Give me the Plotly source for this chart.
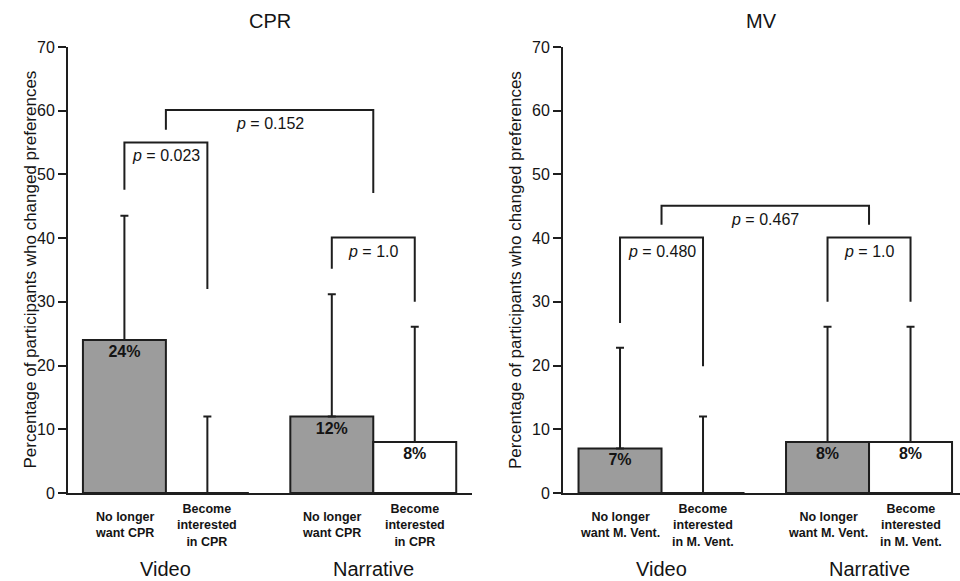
import plotly.graph_objects as go

# ---------------- data ----------------
panel_titles = ["CPR", "MV"]
group_labels = ["Video", "Narrative"]

cpr_categories = ["No longer<br>want CPR", "Become<br>interested<br>in CPR",
                  "No longer<br>want CPR", "Become<br>interested<br>in CPR"]
mv_categories = ["No longer<br>want M. Vent.", "Become<br>interested<br>in M. Vent.",
                 "No longer<br>want M. Vent.", "Become<br>interested<br>in M. Vent."]

cpr_values = [24, 0, 12, 8]
cpr_upper = [43.5, 12.0, 31.2, 26.1]
mv_values = [7, 0, 8, 8]
mv_upper = [22.8, 12.0, 26.1, 26.1]

# brackets: (left bar/group, right bar/group, left leg bottom, top, right leg bottom, p label, label y)
cpr_brackets = [
    ("bar0", "bar1", 47.6, 55.0, 32.0, "p = 0.023", 53.0),
    ("bar2", "bar3", 35.2, 40.1, 30.0, "p = 1.0", 37.9),
    ("grp0", "grp1", 57.0, 60.1, 47.1, "p = 0.152", 58.0),
]
mv_brackets = [
    ("bar0", "bar1", 26.7, 40.1, 19.9, "p = 0.480", 37.9),
    ("bar2", "bar3", 30.0, 40.1, 30.0, "p = 1.0", 37.9),
    ("grp0", "grp1", 42.1, 45.1, 42.1, "p = 0.467", 43.0),
]

y_ticks = [0, 10, 20, 30, 40, 50, 60, 70]
y_title = "Percentage of participants who changed preferences"

# ---------------- layout helpers ----------------
bar_pos = [0, 1, 2.5, 3.5]
grp_pos = [0.5, 3.0]
fills = ["#9c9c9c", "#ffffff", "#9c9c9c", "#ffffff"]
ink = "#1e1e1e"
txt = "#141414"
FONT = "Liberation Sans, Arial, Helvetica, sans-serif"


def pos(key):
    kind, i = key[:3], int(key[3:])
    return bar_pos[i] if kind == "bar" else grp_pos[i]


fig = go.Figure()
panels = [
    (cpr_values, cpr_upper, cpr_categories, cpr_brackets, "x", "y"),
    (mv_values, mv_upper, mv_categories, mv_brackets, "x2", "y2"),
]

annotations = []
for pi, (vals, upper, cats, brackets, xa, ya) in enumerate(panels):
    fig.add_trace(go.Bar(
        x=bar_pos, y=vals, width=1.0,
        marker=dict(color=fills, line=dict(color=ink, width=2)),
        error_y=dict(type="data", symmetric=False,
                     array=[u - v for u, v in zip(upper, vals)],
                     arrayminus=[0] * len(vals),
                     color=ink, thickness=2, width=4),
        text=[f"<b>{v}%</b>" if v > 0 else "" for v in vals],
        textposition="inside", insidetextanchor="end", textangle=0,
        insidetextfont=dict(family=FONT, size=16, color=txt),
        xaxis=xa, yaxis=ya, showlegend=False, hoverinfo="skip",
    ))
    for (l, r, yl, top, yr, lab, ly) in brackets:
        x0, x1 = pos(l), pos(r)
        fig.add_trace(go.Scatter(
            x=[x0, x0, x1, x1], y=[yl, top, top, yr], mode="lines",
            line=dict(color=ink, width=2), xaxis=xa, yaxis=ya,
            showlegend=False, hoverinfo="skip",
        ))
        annotations.append(dict(
            x=(x0 + x1) / 2, y=ly, xref=xa, yref=ya,
            text=lab.replace("p =", "<i>p</i> ="), showarrow=False,
            font=dict(family=FONT, size=16, color=txt),
        ))
    for bx, c in zip(bar_pos, cats):
        annotations.append(dict(
            x=bx, y=0, xref=xa, yref=f"{ya} domain", yshift=-32,
            yanchor="middle", text=f"<b>{c}</b>", showarrow=False,
            font=dict(family=FONT, size=12.5, color=txt),
        ))
    for gx, g in zip(grp_pos, group_labels):
        annotations.append(dict(
            x=gx, y=0, xref=xa, yref=f"{ya} domain", yshift=-76,
            yanchor="middle", text=g, showarrow=False,
            font=dict(family=FONT, size=20, color=txt),
        ))
    annotations.append(dict(
        x=0.5, y=1, xref=f"{xa} domain", yref="paper", yshift=26,
        yanchor="middle", text=panel_titles[pi], showarrow=False,
        font=dict(family=FONT, size=20, color=txt),
    ))

annotations.append(dict(x=18 / 960, y=0.5, xref="paper", yref="paper",
                        text=y_title, textangle=-90, showarrow=False,
                        font=dict(family=FONT, size=17, color=txt)))
annotations.append(dict(x=515 / 960, y=0.5, xref="paper", yref="paper",
                        text=y_title, textangle=-90, showarrow=False,
                        font=dict(family=FONT, size=17, color=txt)))

yax = dict(range=[0, 70], tickvals=y_ticks, ticks="outside", ticklen=8,
           tickwidth=2, tickcolor=ink, showline=True, linewidth=2,
           linecolor=ink, showgrid=False, zeroline=False,
           tickfont=dict(family=FONT, size=16, color=txt), automargin=False)
xax = dict(showline=True, linewidth=2, linecolor=ink, showgrid=False,
           zeroline=False, showticklabels=False, ticks="", automargin=False)

fig.update_layout(
    width=960, height=581,
    margin=dict(l=0, r=0, t=47, b=88),
    paper_bgcolor="white", plot_bgcolor="white",
    xaxis=dict(xax, domain=[68 / 960, 472 / 960], range=[-0.68, 4.19], anchor="y"),
    yaxis=dict(yax, anchor="x"),
    xaxis2=dict(xax, domain=[563 / 960, 1.0], range=[-0.687, 4.096], anchor="y2"),
    yaxis2=dict(yax, anchor="x2"),
    annotations=annotations,
    font=dict(family=FONT),
)

fig.write_html(
    "out.html",
    config={"displayModeBar": False},
    post_script="document.body.style.margin='0';document.body.style.overflow='hidden';",
)
